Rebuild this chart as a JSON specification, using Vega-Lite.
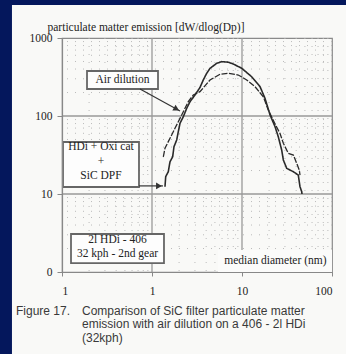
{
  "$schema": "https://vega.github.io/schema/vega-lite/v6.json",
  "width": 270,
  "height": 234,
  "autosize": {"type": "none"},
  "padding": {"left": 62, "top": 38, "right": 14, "bottom": 82},
  "background": "#f9f9f7",
  "config": {
    "view": {"stroke": "#8a8a8a", "strokeWidth": 1.2},
    "axis": {"grid": false, "zindex": 1}
  },
  "datasets": {
    "bg": [
      {"x1": 0.0001, "x2": 0.0278, "y1": 0.0001, "y2": 1000000},
      {"x1": 0.0001, "x2": 1000000, "y1": 2649, "y2": 1000000}
    ],
    "gx": [
      {"v": 0.2, "major": false}, {"v": 0.3, "major": false}, {"v": 0.4, "major": false}, {"v": 0.5, "major": false},
      {"v": 0.6, "major": false}, {"v": 0.7, "major": false}, {"v": 0.8, "major": false}, {"v": 0.9, "major": false},
      {"v": 2, "major": false}, {"v": 3, "major": false}, {"v": 4, "major": false}, {"v": 5, "major": false},
      {"v": 6, "major": false}, {"v": 7, "major": false}, {"v": 8, "major": false}, {"v": 9, "major": false},
      {"v": 20, "major": false}, {"v": 30, "major": false}, {"v": 40, "major": false}, {"v": 50, "major": false},
      {"v": 60, "major": false}, {"v": 70, "major": false}, {"v": 80, "major": false}, {"v": 90, "major": false},
      {"v": 1, "major": true}, {"v": 10, "major": true}
    ],
    "gy": [
      {"v": 2, "major": false}, {"v": 3, "major": false}, {"v": 4, "major": false}, {"v": 5, "major": false},
      {"v": 6, "major": false}, {"v": 7, "major": false}, {"v": 8, "major": false}, {"v": 9, "major": false},
      {"v": 20, "major": false}, {"v": 30, "major": false}, {"v": 40, "major": false}, {"v": 50, "major": false},
      {"v": 60, "major": false}, {"v": 70, "major": false}, {"v": 80, "major": false}, {"v": 90, "major": false},
      {"v": 200, "major": false}, {"v": 300, "major": false}, {"v": 400, "major": false}, {"v": 500, "major": false},
      {"v": 600, "major": false}, {"v": 700, "major": false}, {"v": 800, "major": false}, {"v": 900, "major": false},
      {"v": 10, "major": true}, {"v": 100, "major": true}
    ],
    "titlebox": [{"x1": 5.41, "x2": 100, "y1": 1, "y2": 1.92}],
    "curves": [
      {"s": "DPF", "d": 1.394, "v": 12.4}, {"s": "DPF", "d": 1.42, "v": 16.7}, {"s": "DPF", "d": 1.517, "v": 19.3},
      {"s": "DPF", "d": 1.585, "v": 25.9}, {"s": "DPF", "d": 1.698, "v": 30.1}, {"s": "DPF", "d": 1.755, "v": 40.4},
      {"s": "DPF", "d": 1.88, "v": 49.2}, {"s": "DPF", "d": 1.96, "v": 62.9}, {"s": "DPF", "d": 2.047, "v": 80.6},
      {"s": "DPF", "d": 2.228, "v": 98}, {"s": "DPF", "d": 2.431, "v": 125.6}, {"s": "DPF", "d": 2.643, "v": 152.5},
      {"s": "DPF", "d": 3.004, "v": 185.9}, {"s": "DPF", "d": 3.413, "v": 232}, {"s": "DPF", "d": 3.715, "v": 290},
      {"s": "DPF", "d": 4.05, "v": 352}, {"s": "DPF", "d": 4.41, "v": 408}, {"s": "DPF", "d": 5.24, "v": 474},
      {"s": "DPF", "d": 5.95, "v": 497}, {"s": "DPF", "d": 6.99, "v": 490}, {"s": "DPF", "d": 8.0, "v": 464},
      {"s": "DPF", "d": 9.93, "v": 409}, {"s": "DPF", "d": 12.8, "v": 319}, {"s": "DPF", "d": 15.85, "v": 238},
      {"s": "DPF", "d": 18.0, "v": 169}, {"s": "DPF", "d": 20.5, "v": 103}, {"s": "DPF", "d": 23.3, "v": 72.9},
      {"s": "DPF", "d": 25.3, "v": 54.3}, {"s": "DPF", "d": 27.6, "v": 36.6}, {"s": "DPF", "d": 28.8, "v": 27.3},
      {"s": "DPF", "d": 31.4, "v": 21.3}, {"s": "DPF", "d": 37.2, "v": 19.3}, {"s": "DPF", "d": 42.2, "v": 17.5},
      {"s": "DPF", "d": 44.1, "v": 12.4}, {"s": "DPF", "d": 46.1, "v": 10.7}, {"s": "DPF", "d": 46.4, "v": 10},
      {"s": "Air", "d": 1.336, "v": 30}, {"s": "Air", "d": 1.394, "v": 38.5}, {"s": "Air", "d": 1.517, "v": 46.9},
      {"s": "Air", "d": 1.655, "v": 57.1}, {"s": "Air", "d": 1.8, "v": 69.5}, {"s": "Air", "d": 1.96, "v": 84.5},
      {"s": "Air", "d": 2.138, "v": 103}, {"s": "Air", "d": 2.326, "v": 125.6}, {"s": "Air", "d": 2.53, "v": 152.5},
      {"s": "Air", "d": 2.876, "v": 185.9}, {"s": "Air", "d": 3.413, "v": 205}, {"s": "Air", "d": 4.41, "v": 289.6},
      {"s": "Air", "d": 5.7, "v": 342.5}, {"s": "Air", "d": 7.04, "v": 352.6}, {"s": "Air", "d": 9.1, "v": 335.5},
      {"s": "Air", "d": 11.28, "v": 289.6}, {"s": "Air", "d": 13.94, "v": 238}, {"s": "Air", "d": 17.25, "v": 176.7},
      {"s": "Air", "d": 19.6, "v": 119.4}, {"s": "Air", "d": 23.3, "v": 78.9}, {"s": "Air", "d": 26.4, "v": 60},
      {"s": "Air", "d": 28.8, "v": 44.7}, {"s": "Air", "d": 32.7, "v": 33.2}, {"s": "Air", "d": 37.2, "v": 31.6},
      {"s": "Air", "d": 40.5, "v": 24.8}, {"s": "Air", "d": 43.3, "v": 20.3}, {"s": "Air", "d": 44.1, "v": 17.5}
    ],
    "boxes": [
      {"x1": 0.1896, "x2": 1.166, "y1": 222, "y2": 377.6},
      {"x1": 0.1026, "x2": 0.717, "y1": 12.3, "y2": 46.4},
      {"x1": 0.1259, "x2": 1.359, "y1": 1.3, "y2": 3.07}
    ],
    "boxtext": [
      {"x": 0.47, "y": 289.6, "t": "Air dilution"},
      {"x": 0.271, "y": 40.0, "t": "HDi + Oxi cat"},
      {"x": 0.271, "y": 25.7, "t": "+"},
      {"x": 0.271, "y": 17.0, "t": "SiC DPF"},
      {"x": 0.414, "y": 2.57, "t": "2l HDi - 406"},
      {"x": 0.414, "y": 1.70, "t": "32 kph - 2nd gear"}
    ],
    "arrow1": [{"x1": 0.736, "y1": 222, "x2": 2.047, "y2": 115.9, "hx": 1.872, "hy": 123}],
    "arrow2": [{"x1": 0.717, "y1": 12.7, "x2": 1.326, "y2": 12.7, "hx": 1.196, "hy": 12.7}],
    "caption": [
      {"x": 0.0308, "y": 0.281, "t": "Figure 17."},
      {"x": 0.1668, "y": 0.281, "t": "Comparison of SiC filter particulate matter"},
      {"x": 0.1668, "y": 0.1887, "t": "emission with air dilution on a 406 - 2l HDi"},
      {"x": 0.1668, "y": 0.1266, "t": "(32kph)"}
    ]
  },
  "layer": [
    {
      "data": {"name": "bg"},
      "mark": {"type": "rect", "color": "#04175c"},
      "encoding": {
        "x": {"field": "x1", "type": "quantitative", "scale": {"type": "log", "domain": [0.1, 100]}},
        "x2": {"field": "x2"},
        "y": {"field": "y1", "type": "quantitative", "scale": {"type": "log", "domain": [1, 1000]}},
        "y2": {"field": "y2"}
      }
    },
    {
      "data": {"name": "gx"},
      "transform": [{"filter": "!datum.major"}],
      "mark": {"type": "rule", "color": "#bbbbbb", "strokeWidth": 1, "strokeDash": [1, 7]},
      "encoding": {
        "x": {"field": "v", "type": "quantitative", "scale": {"type": "log", "domain": [0.1, 100]}}
      }
    },
    {
      "data": {"name": "gy"},
      "transform": [{"filter": "!datum.major"}],
      "mark": {"type": "rule", "color": "#bbbbbb", "strokeWidth": 1, "strokeDash": [1, 7]},
      "encoding": {
        "y": {"field": "v", "type": "quantitative", "scale": {"type": "log", "domain": [1, 1000]}}
      }
    },
    {
      "data": {"name": "gx"},
      "transform": [{"filter": "datum.major"}],
      "mark": {"type": "rule", "color": "#999999", "strokeWidth": 1.3},
      "encoding": {
        "x": {"field": "v", "type": "quantitative", "scale": {"type": "log", "domain": [0.1, 100]}}
      }
    },
    {
      "data": {"name": "gy"},
      "transform": [{"filter": "datum.major"}],
      "mark": {"type": "rule", "color": "#999999", "strokeWidth": 1.3},
      "encoding": {
        "y": {"field": "v", "type": "quantitative", "scale": {"type": "log", "domain": [1, 1000]}}
      }
    },
    {
      "data": {"name": "titlebox"},
      "mark": {"type": "rect", "color": "#fbfbfa"},
      "encoding": {
        "x": {"field": "x1", "type": "quantitative", "scale": {"type": "log", "domain": [0.1, 100]}},
        "x2": {"field": "x2"},
        "y": {"field": "y1", "type": "quantitative", "scale": {"type": "log", "domain": [1, 1000]}},
        "y2": {"field": "y2"}
      }
    },
    {
      "data": {"name": "curves"},
      "mark": {"type": "line", "color": "#2a2a2a", "interpolate": "linear"},
      "encoding": {
        "x": {
          "field": "d", "type": "quantitative",
          "scale": {"type": "log", "domain": [0.1, 100]},
          "axis": {
            "values": [0.1, 1, 10, 100],
            "labelExpr": "datum.value < 0.5 ? '1' : format(datum.value, 'd')",
            "labelFlush": true,
            "grid": false,
            "tickSize": 4,
            "tickColor": "#888888",
            "domainColor": "#888888",
            "domainWidth": 1.2,
            "labelPadding": 9,
            "labelFont": "Liberation Serif",
            "labelFontSize": 11.5,
            "labelColor": "#222222",
            "title": "median diameter (nm)",
            "titleFont": "Liberation Serif",
            "titleFontSize": 11.5,
            "titleFontWeight": "normal",
            "titleColor": "#222222",
            "titleAlign": "right",
            "titleBaseline": "alphabetic",
            "titleX": 264,
            "titleY": -9,
            "zindex": 1
          }
        },
        "y": {
          "field": "v", "type": "quantitative",
          "scale": {"type": "log", "domain": [1, 1000]},
          "axis": {
            "values": [1, 10, 100, 1000],
            "labelExpr": "datum.value < 2 ? '0' : format(datum.value, 'd')",
            "grid": false,
            "tickSize": 5,
            "tickColor": "#888888",
            "domainColor": "#888888",
            "domainWidth": 1.2,
            "labelPadding": 5,
            "labelFont": "Liberation Serif",
            "labelFontSize": 11.5,
            "labelColor": "#222222",
            "title": "particulate matter emission [dW/dlog(Dp)]",
            "titleFont": "Liberation Serif",
            "titleFontSize": 11.5,
            "titleFontWeight": "normal",
            "titleColor": "#222222",
            "titleAngle": 0,
            "titleAlign": "left",
            "titleBaseline": "alphabetic",
            "titleX": -15,
            "titleY": -8,
            "zindex": 1
          }
        },
        "detail": {"field": "s"},
        "strokeDash": {"field": "s", "type": "nominal", "scale": {"domain": ["DPF", "Air"], "range": [[1, 0], [6, 1.5]]}, "legend": null},
        "strokeWidth": {"field": "s", "type": "nominal", "scale": {"domain": ["DPF", "Air"], "range": [1.6, 1.3]}, "legend": null}
      }
    },
    {
      "data": {"name": "boxes"},
      "mark": {"type": "rect", "fill": "#fdfdfd", "stroke": "#666666", "strokeWidth": 1.8},
      "encoding": {
        "x": {"field": "x1", "type": "quantitative", "scale": {"type": "log", "domain": [0.1, 100]}},
        "x2": {"field": "x2"},
        "y": {"field": "y1", "type": "quantitative", "scale": {"type": "log", "domain": [1, 1000]}},
        "y2": {"field": "y2"}
      }
    },
    {
      "data": {"name": "boxtext"},
      "mark": {"type": "text", "font": "Liberation Serif", "fontSize": 11.5, "color": "#222222", "align": "center", "baseline": "middle"},
      "encoding": {
        "x": {"field": "x", "type": "quantitative", "scale": {"type": "log", "domain": [0.1, 100]}},
        "y": {"field": "y", "type": "quantitative", "scale": {"type": "log", "domain": [1, 1000]}},
        "text": {"field": "t"}
      }
    },
    {
      "data": {"name": "arrow1"},
      "layer": [
        {
          "mark": {"type": "rule", "color": "#333333", "strokeWidth": 1.2},
          "encoding": {
            "x": {"field": "x1", "type": "quantitative", "scale": {"type": "log", "domain": [0.1, 100]}},
            "y": {"field": "y1", "type": "quantitative", "scale": {"type": "log", "domain": [1, 1000]}},
            "x2": {"field": "x2"},
            "y2": {"field": "y2"}
          }
        },
        {
          "mark": {"type": "point", "shape": "triangle-right", "filled": true, "color": "#333333", "size": 45, "angle": 29, "opacity": 1},
          "encoding": {
            "x": {"field": "hx", "type": "quantitative", "scale": {"type": "log", "domain": [0.1, 100]}},
            "y": {"field": "hy", "type": "quantitative", "scale": {"type": "log", "domain": [1, 1000]}}
          }
        }
      ]
    },
    {
      "data": {"name": "arrow2"},
      "layer": [
        {
          "mark": {"type": "rule", "color": "#333333", "strokeWidth": 1.2},
          "encoding": {
            "x": {"field": "x1", "type": "quantitative", "scale": {"type": "log", "domain": [0.1, 100]}},
            "y": {"field": "y1", "type": "quantitative", "scale": {"type": "log", "domain": [1, 1000]}},
            "x2": {"field": "x2"},
            "y2": {"field": "y2"}
          }
        },
        {
          "mark": {"type": "point", "shape": "triangle-right", "filled": true, "color": "#333333", "size": 45, "angle": 0, "opacity": 1},
          "encoding": {
            "x": {"field": "hx", "type": "quantitative", "scale": {"type": "log", "domain": [0.1, 100]}},
            "y": {"field": "hy", "type": "quantitative", "scale": {"type": "log", "domain": [1, 1000]}}
          }
        }
      ]
    },
    {
      "data": {"name": "caption"},
      "mark": {"type": "text", "font": "Liberation Sans", "fontSize": 12, "color": "#3a3a3a", "align": "left", "baseline": "alphabetic"},
      "encoding": {
        "x": {"field": "x", "type": "quantitative", "scale": {"type": "log", "domain": [0.1, 100]}},
        "y": {"field": "y", "type": "quantitative", "scale": {"type": "log", "domain": [1, 1000]}},
        "text": {"field": "t"}
      }
    }
  ]
}
